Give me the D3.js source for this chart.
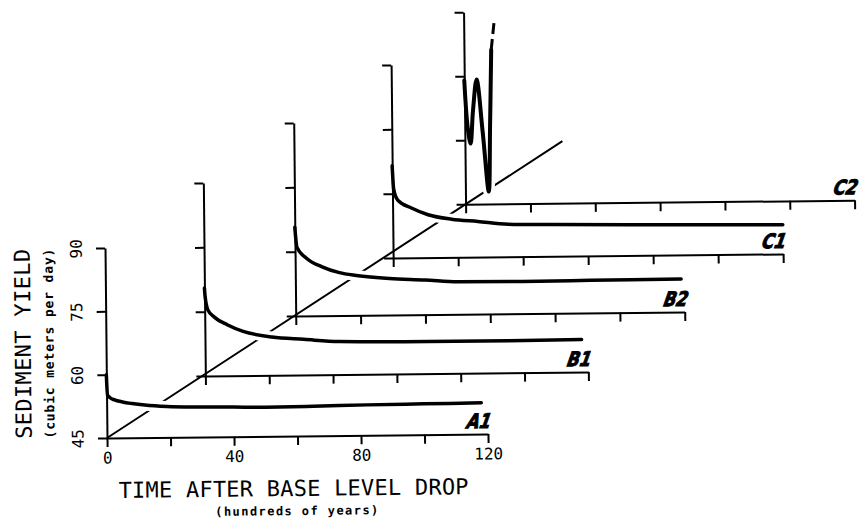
<!DOCTYPE html>
<html>
<head>
<meta charset="utf-8">
<script src="https://cdn.jsdelivr.net/npm/d3@7"></script>
<style>
    html, body { margin: 0; padding: 0; background: #fff; }
    svg { display: block; }
    text { font-family: 'DejaVu Sans Mono', monospace; fill: #000; }
</style>
</head>
<body>
<div id="chart"></div>
<script>
'use strict';

/*
Data
 */
const panelNames = ['A1', 'B1', 'B2', 'C1', 'C2'];

const a1Time = [0, 0.3, 1, 2.5, 5, 8, 12, 19, 29, 40, 50, 65, 82, 100, 118];
const a1Yield = [60, 55.2, 54.6, 54, 53.5, 53.1, 52.7, 52.3, 52.1, 52.0, 51.9, 52.0, 52.2, 52.3, 52.4];

const b1Time = [0, 0.2, 1, 3, 7, 12, 21, 31, 42, 70, 95, 118];
const b1Yield = [65.5, 63.4, 60.4, 58.7, 56.9, 55.3, 53.9, 53.3, 52.7, 52.5, 52.5, 52.6];

const b2Time = [0, 0.6, 3.4, 8.3, 13.6, 18.8, 29, 40, 50, 70, 91, 119];
const b2Yield = [65.7, 61, 58.5, 56.4, 55, 54.3, 53.5, 53.1, 52.6, 52.5, 52.6, 52.7];

const c1Time = [0, 0.4, 1.6, 5.8, 10.9, 18.1, 26.2, 35.5, 48.8, 80, 120];
const c1Yield = [66.5, 61, 58.5, 56.6, 55, 53.9, 53.3, 52.6, 52.4, 52.1, 51.8];

const c2Time = [0, 0.9, 1.75, 2.6, 3.8, 5.5, 7.2, 7.8, 8.4];
const c2Yield = [74, 63, 59.2, 67, 74.2, 62, 47.9, 63, 81.1];
const c2DashTime = [8.4, 9.5];
const c2DashYield = [81.1, 88.5];

const xTickValues = [0, 20, 40, 60, 80, 100, 120];
const xLabelValues = [0, 40, 80, 120];
const yTickValues = [45, 60, 75, 90];

/*
Staircase
 */
class Staircase {

    // Configs
    svgW = 866;
    svgH = 519;
    tilt = -0.6;
    // origin, axis width and height of each panel, front to back
    layout = [
        {x: 107, y: 438, w: 381, h: 190},
        {x: 206, y: 377, w: 383, h: 193},
        {x: 297, y: 318, w: 389, h: 193},
        {x: 395, y: 261, w: 390, h: 193},
        {x: 468, y: 208, w: 389, h: 192}
    ];

    constructor(_panels, _target) {
        this.panels = _panels;
        this.target = _target;
        this.init();
    }

    /*
    1. Init
     */
    init() {
        // Define this vis
        const vis = this;

        vis.svg = d3.select(`#${vis.target}`)
            .append('svg')
            .attr('width', vis.svgW)
            .attr('height', vis.svgH);
        vis.g = vis.svg.append('g')
            .attr('transform', `rotate(${vis.tilt}, ${vis.layout[0].x}, ${vis.layout[0].y})`);

        vis.render();
    }

    /*
    2. Render
     */
    render() {
        // Define this vis
        const vis = this;
        const first = vis.layout[0];
        const last = vis.layout[vis.layout.length - 1];

        // Diagonal through the origins
        const ext = 1.27;
        vis.g.append('line')
            .attr('x1', first.x)
            .attr('y1', first.y)
            .attr('x2', first.x + (last.x - first.x) * ext)
            .attr('y2', first.y + (last.y - first.y) * ext)
            .attr('stroke', '#000')
            .attr('stroke-width', 2);

        // Panels, back to front
        vis.panels.slice().reverse().forEach(p => {
            const idx = panelNames.indexOf(p.name);
            const L = vis.layout[idx];
            const front = idx === 0;

            const x = d3.scaleLinear().domain([0, 120]).range([0, L.w]);
            const y = d3.scaleLinear().domain([45, 90]).range([0, -L.h]);
            const line = d3.line()
                .x(d => x(d[0]))
                .y(d => y(d[1]))
                .curve(p.name === 'C2' ? d3.curveCatmullRom.alpha(0.5) : d3.curveMonotoneX);

            const pg = vis.g.append('g')
                .attr('class', 'panelG')
                .attr('transform', `translate(${L.x},${L.y})`);

            // White halo hides the diagonal behind the curve
            pg.append('path')
                .attr('d', line(p.points))
                .attr('fill', 'none')
                .attr('stroke', '#fff')
                .attr('stroke-width', 11);

            // Axes
            const xAxis = d3.axisBottom(x)
                .tickValues(xTickValues)
                .tickSize(9)
                .tickSizeOuter(0)
                .tickPadding(5)
                .tickFormat(d => (front && xLabelValues.includes(d)) ? d : '');
            const yAxis = d3.axisLeft(y)
                .tickValues(yTickValues)
                .tickSize(9)
                .tickSizeOuter(0)
                .tickFormat(d => front ? d : '');

            const xg = pg.append('g').call(xAxis);
            const yg = pg.append('g').call(yAxis);
            [xg, yg].forEach(a => {
                a.selectAll('path, line').attr('stroke', '#000').attr('stroke-width', 2);
                a.selectAll('text')
                    .attr('fill', '#000')
                    .style('font-family', "'DejaVu Sans Mono', monospace")
                    .style('font-size', '16px');
            });
            yg.selectAll('text')
                .attr('x', 0)
                .attr('y', -29)
                .attr('dy', '0.35em')
                .attr('text-anchor', 'middle')
                .attr('transform', 'rotate(-90)');

            // Curve
            pg.append('path')
                .attr('d', line(p.points))
                .attr('fill', 'none')
                .attr('stroke', '#000')
                .attr('stroke-width', p.name === 'C2' ? 4 : 3.5)
                .attr('stroke-linejoin', 'round')
                .attr('stroke-linecap', 'round');
            if (p.dash) {
                pg.append('path')
                    .attr('d', d3.line().x(d => x(d[0])).y(d => y(d[1]))(p.dash))
                    .attr('fill', 'none')
                    .attr('stroke', '#000')
                    .attr('stroke-width', 3)
                    .attr('stroke-dasharray', '11,5');
            }

            // Panel label, hollow italic letters
            pg.append('text')
                .attr('transform', `translate(${L.w - 23},-6) skewX(-20)`)
                .style('font-family', "'DejaVu Sans', sans-serif")
                .style('font-size', '20px')
                .style('font-weight', 'bold')
                .attr('fill', '#fff')
                .attr('stroke', '#000')
                .attr('stroke-width', 1)
                .attr('textLength', 24)
                .attr('lengthAdjust', 'spacingAndGlyphs')
                .text(p.name);
        });

        // Axis titles
        vis.g.append('text')
            .attr('transform', `translate(24,343) rotate(-90)`)
            .attr('text-anchor', 'middle')
            .attr('dy', '0.35em')
            .style('font-size', '22px')
            .attr('textLength', 190)
            .text('SEDIMENT YIELD');
        vis.g.append('text')
            .attr('transform', `translate(50,343) rotate(-90)`)
            .attr('text-anchor', 'middle')
            .attr('dy', '0.35em')
            .style('font-size', '13px')
            .style('font-weight', 'bold')
            .attr('textLength', 190)
            .text('(cubic meters per day)');
        vis.g.append('text')
            .attr('x', 293)
            .attr('y', 498)
            .attr('text-anchor', 'middle')
            .style('font-size', '22px')
            .attr('textLength', 350)
            .text('TIME AFTER BASE LEVEL DROP');
        vis.g.append('text')
            .attr('x', 296)
            .attr('y', 517)
            .attr('text-anchor', 'middle')
            .style('font-size', '12px')
            .style('font-weight', 'bold')
            .attr('textLength', 163)
            .text('(hundreds of years)');
    }
}

const zip = (t, v) => t.map((d, i) => [d, v[i]]);
const panels = [
    {name: 'A1', points: zip(a1Time, a1Yield)},
    {name: 'B1', points: zip(b1Time, b1Yield)},
    {name: 'B2', points: zip(b2Time, b2Yield)},
    {name: 'C1', points: zip(c1Time, c1Yield)},
    {name: 'C2', points: zip(c2Time, c2Yield), dash: zip(c2DashTime, c2DashYield)}
];

new Staircase(panels, 'chart');
</script>
</body>
</html>
